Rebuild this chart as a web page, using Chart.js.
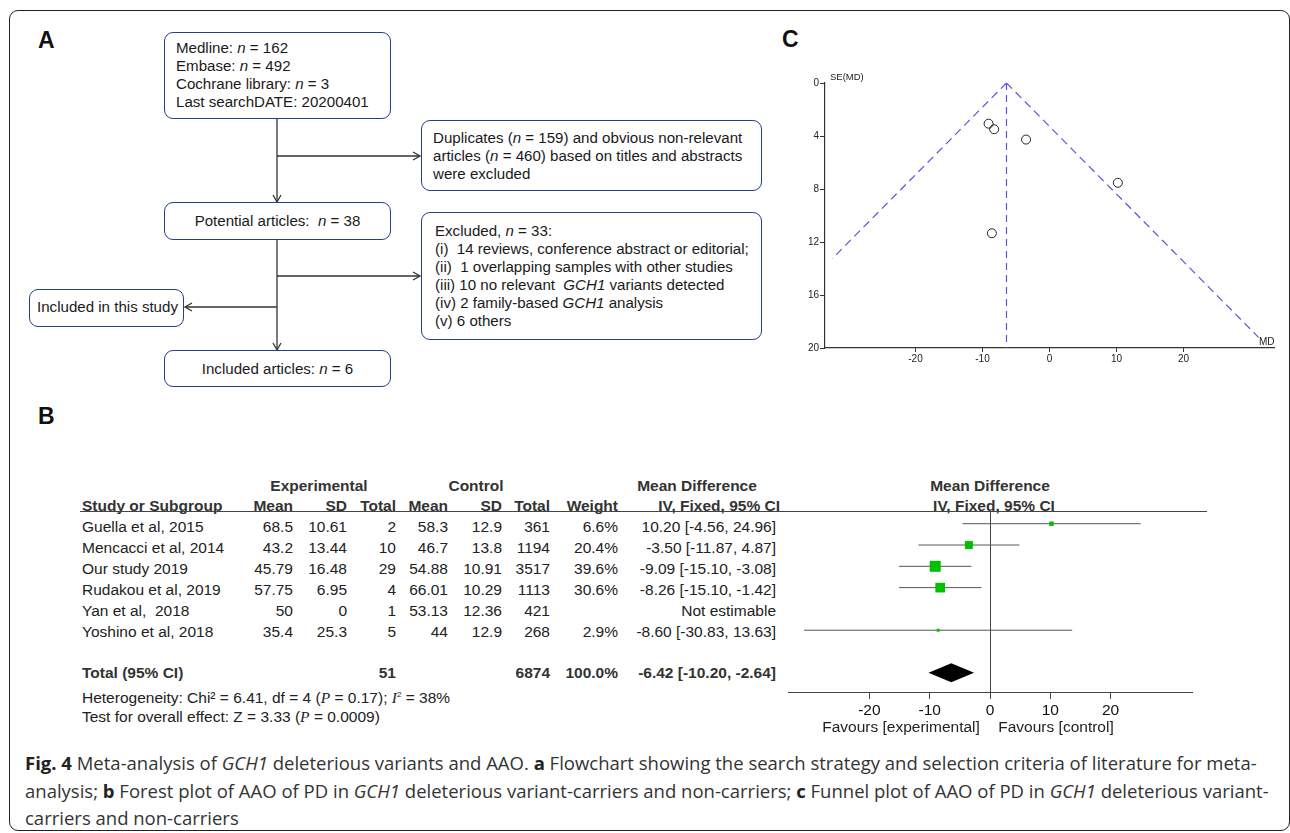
<!DOCTYPE html>
<html>
<head>
<meta charset="utf-8">
<script src="https://cdn.jsdelivr.net/npm/chart.js@4.4.1/dist/chart.umd.min.js"></script>
<style>
  html, body { margin: 0; padding: 0; background: #fff; }
  body { width: 1290px; height: 833px; position: relative; overflow: hidden; font-family: "Liberation Sans", Arial, sans-serif; color: #1a1a1a; }
  .abs { position: absolute; white-space: pre; }
  .frame { position: absolute; left: 9px; top: 10px; width: 1281px; height: 821px; border: 1.5px solid #222; border-radius: 9px; box-sizing: border-box; }
  .panel { position: absolute; font-weight: bold; font-size: 23px; line-height: 1; color: #111; }
  .box { position: absolute; border: 1.5px solid #233f8c; border-radius: 9px; box-sizing: border-box; background: #fff; }
  .fl { position: absolute; font-size: 15.1px; line-height: 18px; white-space: nowrap; color: #1a1a1a; }
  .cell { position: absolute; font-size: 15.5px; line-height: 18px; white-space: pre; color: #222; }
  .hd { font-weight: bold; color: #333; }
  .serif { font-family: "Liberation Serif", "DejaVu Serif", serif; font-style: italic; }
  .cap { position: absolute; left: 25px; font-family: "Open Sans", sans-serif; font-size: 18.5px; line-height: 22px; color: #333; white-space: nowrap; }
  .cap b { color: #222; }
  canvas { position: absolute; }
</style>
</head>
<body>
<div class="frame"></div>

<div class="panel" style="left:38px; top:29px;">A</div>
<div class="panel" style="left:38px; top:405px;">B</div>
<div class="panel" style="left:782px; top:28px;">C</div>

<!-- flowchart (panel A) -->
<svg class="abs" style="left:0; top:0;" width="1290" height="833">
  <g stroke="#333" stroke-width="1.3" fill="none">
    <line x1="277" y1="118" x2="277" y2="202"/>
    <polyline points="273,195 277,202 281,195"/>
    <line x1="277" y1="156" x2="420" y2="156"/>
    <polyline points="413,152 420,156 413,160"/>
    <line x1="277" y1="239" x2="277" y2="350"/>
    <polyline points="273,343 277,350 281,343"/>
    <line x1="277" y1="276" x2="420" y2="276"/>
    <polyline points="413,272 420,276 413,280"/>
    <line x1="277" y1="307" x2="185" y2="307"/>
    <polyline points="192,303 185,307 192,311"/>
  </g>
</svg>

<div class="box" style="left:164px; top:32px; width:227px; height:87px;"></div>
<div class="fl" style="left:176px; top:39px;">Medline: <i>n</i> = 162</div>
<div class="fl" style="left:176px; top:57px;">Embase: <i>n</i> = 492</div>
<div class="fl" style="left:176px; top:75px;">Cochrane library: <i>n</i> = 3</div>
<div class="fl" style="left:176px; top:93px;">Last searchDATE: 20200401</div>

<div class="box" style="left:421px; top:120px; width:341px; height:71px;"></div>
<div class="fl" style="left:433px; top:129px;">Duplicates (<i>n</i> = 159) and obvious non-relevant</div>
<div class="fl" style="left:433px; top:147px;">articles (<i>n</i> = 460) based on titles and abstracts</div>
<div class="fl" style="left:433px; top:165px;">were excluded</div>

<div class="box" style="left:164px; top:202px; width:227px; height:38px;"></div>
<div class="fl" style="left:164px; width:227px; text-align:center; top:212px;">Potential articles:&nbsp; <i>n</i> = 38</div>

<div class="box" style="left:421px; top:212px; width:341px; height:128px;"></div>
<div class="fl" style="left:435px; top:222px;">Excluded, <i>n</i> = 33:</div>
<div class="fl" style="left:435px; top:240px;">(i)&nbsp; 14 reviews, conference abstract or editorial;</div>
<div class="fl" style="left:435px; top:258px;">(ii)&nbsp; 1 overlapping samples with other studies</div>
<div class="fl" style="left:435px; top:276px;">(iii) 10 no relevant&nbsp; <i>GCH1</i> variants detected</div>
<div class="fl" style="left:435px; top:294px;">(iv) 2 family-based <i>GCH1</i> analysis</div>
<div class="fl" style="left:435px; top:312px;">(v) 6 others</div>

<div class="box" style="left:29px; top:289px; width:155px; height:38px;"></div>
<div class="fl" style="left:37px; top:298px;">Included in this study</div>

<div class="box" style="left:164px; top:350px; width:227px; height:37px;"></div>
<div class="fl" style="left:164px; width:227px; text-align:center; top:360px;">Included articles: <i>n</i> = 6</div>

<!-- forest plot table (panel B) -->
<div id="table"></div>
<div class="abs" style="left:80px; top:511px; width:1127px; height:0; border-top:1.2px solid #444;"></div>

<canvas id="forest" width="440" height="225" style="left:780px; top:500px;"></canvas>
<div class="cell" style="left:901px; top:718px; transform:translateX(-50%); font-size:15.5px;">Favours [experimental]</div>
<div class="cell" style="left:1056px; top:718px; transform:translateX(-50%); font-size:15.5px;">Favours [control]</div>

<!-- funnel plot (panel C) -->
<canvas id="funnel" width="510" height="320" style="left:780px; top:60px;"></canvas>
<div class="abs" style="left:830px; top:71px; font-size:9.5px; color:#222;">SE(MD)</div>
<div class="abs" style="left:1259px; top:336px; font-size:10px; color:#222;">MD</div>

<!-- caption -->
<div class="cap" style="top:752px;"><b>Fig. 4</b> Meta-analysis of <i>GCH1</i> deleterious variants and AAO. <b>a</b> Flowchart showing the search strategy and selection criteria of literature for meta-</div>
<div class="cap" style="top:780px;">analysis; <b>b</b> Forest plot of AAO of PD in <i>GCH1</i> deleterious variant-carriers and non-carriers; <b>c</b> Funnel plot of AAO of PD in <i>GCH1</i> deleterious variant-</div>
<div class="cap" style="top:807px;">carriers and non-carriers</div>

<script>
// study data
const studies   = [ 'Guella et al, 2015', 'Mencacci et al, 2014', 'Our study 2019', 'Rudakou et al, 2019', 'Yan et al,  2018', 'Yoshino et al, 2018' ];
const expMean   = [ '68.5', '43.2', '45.79', '57.75', '50', '35.4' ];
const expSD     = [ '10.61', '13.44', '16.48', '6.95', '0', '25.3' ];
const expTotal  = [ 2, 10, 29, 4, 1, 5 ];
const ctrlMean  = [ '58.3', '46.7', '54.88', '66.01', '53.13', '44' ];
const ctrlSD    = [ '12.9', '13.8', '10.91', '10.29', '12.36', '12.9' ];
const ctrlTotal = [ 361, 1194, 3517, 1113, 421, 268 ];
const weight    = [ 6.6, 20.4, 39.6, 30.6, null, 2.9 ];
const md        = [ 10.20, -3.50, -9.09, -8.26, null, -8.60 ];
const ciLow     = [ -4.56, -11.87, -15.10, -15.10, null, -30.83 ];
const ciHigh    = [ 24.96, 4.87, -3.08, -1.42, null, 13.63 ];
const seMD      = [ 7.53, 4.27, 3.07, 3.49, null, 11.34 ];

// pooled result
const totalExp   = 51;
const totalCtrl  = 6874;
const pooledMD   = -6.42;
const pooledLow  = -10.20;
const pooledHigh = -2.64;
const totalRow   = 7;

// axes
const mdTicks = [ -20, -10, 0, 10, 20 ];
const seTicks = [ 0, 4, 8, 12, 16, 20 ];

// funnel limit lines, ends
const funnelLeftEnd  = { x: -32.4, y: 13.25 };
const funnelRightEnd = { x: 31.2, y: 19.2 };

const fmt = ( v ) => ( v < 0 ? '-' : '' ) + Math.abs( v ).toFixed( 2 );
const ciText = ( m, lo, hi ) => `${ fmt( m ) } [${ fmt( lo ) }, ${ fmt( hi ) }]`;

// table text
const table = document.getElementById( 'table' );
function cell( html, x, y, align, cls ) {
    const d = document.createElement( 'div' );
    d.className = 'cell' + ( cls ? ' ' + cls : '' );
    d.innerHTML = html;
    d.style.top = ( y - 9 ) + 'px';
    if ( align === 'right' ) d.style.right = ( 1290 - x ) + 'px';
    else if ( align === 'center' ) { d.style.left = x + 'px'; d.style.transform = 'translateX(-50%)'; }
    else d.style.left = x + 'px';
    table.appendChild( d );
}

const COLS = { study: 82, expMean: 293, expSD: 347, expTotal: 396, ctrlMean: 448, ctrlSD: 502, ctrlTotal: 550, weight: 618, ci: 776 };

cell( 'Experimental', 319, 486, 'center', 'hd' );
cell( 'Control', 476, 486, 'center', 'hd' );
cell( 'Mean Difference', 697, 486, 'center', 'hd' );
cell( 'Mean Difference', 990, 486, 'center', 'hd' );
cell( 'Study or Subgroup', COLS.study, 506, 'left', 'hd' );
cell( 'Mean', COLS.expMean, 506, 'right', 'hd' );
cell( 'SD', COLS.expSD, 506, 'right', 'hd' );
cell( 'Total', COLS.expTotal, 506, 'right', 'hd' );
cell( 'Mean', COLS.ctrlMean, 506, 'right', 'hd' );
cell( 'SD', COLS.ctrlSD, 506, 'right', 'hd' );
cell( 'Total', COLS.ctrlTotal, 506, 'right', 'hd' );
cell( 'Weight', COLS.weight, 506, 'right', 'hd' );
cell( 'IV, Fixed, 95% CI', 780, 506, 'right', 'hd' );
cell( 'IV, Fixed, 95% CI', 994, 506, 'center', 'hd' );

studies.forEach( ( s, i ) => {
    const y = 527 + i * 21;
    cell( s, COLS.study, y, 'left' );
    cell( expMean[ i ], COLS.expMean, y, 'right' );
    cell( expSD[ i ], COLS.expSD, y, 'right' );
    cell( String( expTotal[ i ] ), COLS.expTotal, y, 'right' );
    cell( ctrlMean[ i ], COLS.ctrlMean, y, 'right' );
    cell( ctrlSD[ i ], COLS.ctrlSD, y, 'right' );
    cell( String( ctrlTotal[ i ] ), COLS.ctrlTotal, y, 'right' );
    if ( weight[ i ] !== null ) cell( weight[ i ].toFixed( 1 ) + '%', COLS.weight, y, 'right' );
    cell( md[ i ] !== null ? ciText( md[ i ], ciLow[ i ], ciHigh[ i ] ) : 'Not estimable', COLS.ci, y, 'right' );
} );

cell( 'Total (95% CI)', COLS.study, 673, 'left', 'hd' );
cell( String( totalExp ), COLS.expTotal, 673, 'right', 'hd' );
cell( String( totalCtrl ), COLS.ctrlTotal, 673, 'right', 'hd' );
cell( '100.0%', COLS.weight, 673, 'right', 'hd' );
cell( ciText( pooledMD, pooledLow, pooledHigh ), COLS.ci, 673, 'right', 'hd' );
cell( 'Heterogeneity: Chi² = 6.41, df = 4 (<span class="serif">P</span> = 0.17); <span class="serif">I</span><sup style="font-size:8px">2</sup> = 38%', COLS.study, 695, 'left' );
cell( 'Test for overall effect: Z = 3.33 (<span class="serif">P</span> = 0.0009)', COLS.study, 717, 'left' );

// forest plot
const studyIdx = studies.map( ( s, i ) => i ).filter( ( i ) => md[ i ] !== null );

const diamondPlugin = {
    id: 'diamond',
    afterDatasetsDraw( chart ) {
        const { ctx, scales: { x, y } } = chart;
        const yc = y.getPixelForValue( totalRow );
        ctx.save();
        ctx.fillStyle = '#000';
        ctx.beginPath();
        ctx.moveTo( x.getPixelForValue( pooledLow ), yc );
        ctx.lineTo( x.getPixelForValue( pooledMD ), yc - 9.5 );
        ctx.lineTo( x.getPixelForValue( pooledHigh ), yc );
        ctx.lineTo( x.getPixelForValue( pooledMD ), yc + 9.5 );
        ctx.closePath();
        ctx.fill();
        ctx.restore();
    },
};

new Chart( document.getElementById( 'forest' ), {
    type: 'scatter',
    data: {
        datasets: [
            {
                data: studyIdx.map( ( i ) => ( { x: md[ i ], y: i } ) ),
                pointStyle: 'rect',
                pointRadius: studyIdx.map( ( i ) => 1.75 * Math.sqrt( weight[ i ] ) / Math.SQRT2 ),
                backgroundColor: '#00c000',
                borderWidth: 0,
            },
            ...studyIdx.map( ( i ) => ( {
                data: [ { x: ciLow[ i ], y: i }, { x: ciHigh[ i ], y: i } ],
                showLine: true,
                borderColor: '#555',
                borderWidth: 1,
                pointRadius: 0,
            } ) ),
        ],
    },
    options: {
        responsive: false,
        animation: false,
        devicePixelRatio: 1,
        layout: { padding: { left: 8, right: 28, top: 12, bottom: 0 } },
        plugins: { legend: { display: false }, tooltip: { enabled: false } },
        scales: {
            x: {
                min: -33.5,
                max: 33.5,
                afterBuildTicks: ( s ) => { s.ticks = mdTicks.map( ( v ) => ( { value: v } ) ); },
                afterFit: ( s ) => { s.height = 33; },
                grid: {
                    color: ( c ) => ( c.tick && c.tick.value === 0 ? '#444' : 'rgba(0,0,0,0)' ),
                    tickColor: '#444',
                    tickLength: 7,
                },
                border: { display: true, color: '#444', width: 1 },
                ticks: { color: '#111', padding: 2, font: { family: 'Liberation Sans', size: 15.5 } },
            },
            y: {
                display: false,
                reverse: true,
                min: -0.55,
                max: 7.9,
            },
        },
    },
    plugins: [ diamondPlugin ],
} );

// funnel plot
new Chart( document.getElementById( 'funnel' ), {
    type: 'scatter',
    data: {
        datasets: [
            {
                data: studyIdx.map( ( i ) => ( { x: md[ i ], y: seMD[ i ] } ) ),
                pointStyle: 'circle',
                pointRadius: 4.5,
                borderColor: '#222',
                borderWidth: 1,
                backgroundColor: 'rgba(0,0,0,0)',
            },
            {
                data: [ { x: pooledMD, y: 0 }, { x: pooledMD, y: 20 } ],
                showLine: true, pointRadius: 0, borderColor: '#5656dc', borderWidth: 1.2, borderDash: [ 7, 5 ],
            },
            {
                data: [ { x: pooledMD, y: 0 }, funnelLeftEnd ],
                showLine: true, pointRadius: 0, borderColor: '#5656dc', borderWidth: 1.2, borderDash: [ 8, 5 ],
            },
            {
                data: [ { x: pooledMD, y: 0 }, funnelRightEnd ],
                showLine: true, pointRadius: 0, borderColor: '#5656dc', borderWidth: 1.2, borderDash: [ 8, 5 ],
            },
        ],
    },
    options: {
        responsive: false,
        animation: false,
        devicePixelRatio: 1,
        layout: { padding: { left: 0, right: 16, top: 23, bottom: 0 } },
        plugins: { legend: { display: false }, tooltip: { enabled: false } },
        scales: {
            x: {
                min: -33.5,
                max: 33.5,
                afterBuildTicks: ( s ) => { s.ticks = mdTicks.map( ( v ) => ( { value: v } ) ); },
                afterFit: ( s ) => { s.height = 32; },
                grid: { drawOnChartArea: false, tickColor: '#333', tickLength: 4 },
                border: { display: true, color: '#333', width: 1.2 },
                ticks: { color: '#222', padding: 1, font: { family: 'Liberation Sans', size: 10 } },
            },
            y: {
                min: 0,
                max: 20,
                reverse: true,
                afterBuildTicks: ( s ) => { s.ticks = seTicks.map( ( v ) => ( { value: v } ) ); },
                afterFit: ( s ) => { s.width = 45; },
                grid: { drawOnChartArea: false, tickColor: '#333', tickLength: 5 },
                border: { display: true, color: '#333', width: 1.2 },
                ticks: { color: '#222', padding: 1, font: { family: 'Liberation Sans', size: 10 } },
            },
        },
    },
} );
</script>
</body>
</html>
